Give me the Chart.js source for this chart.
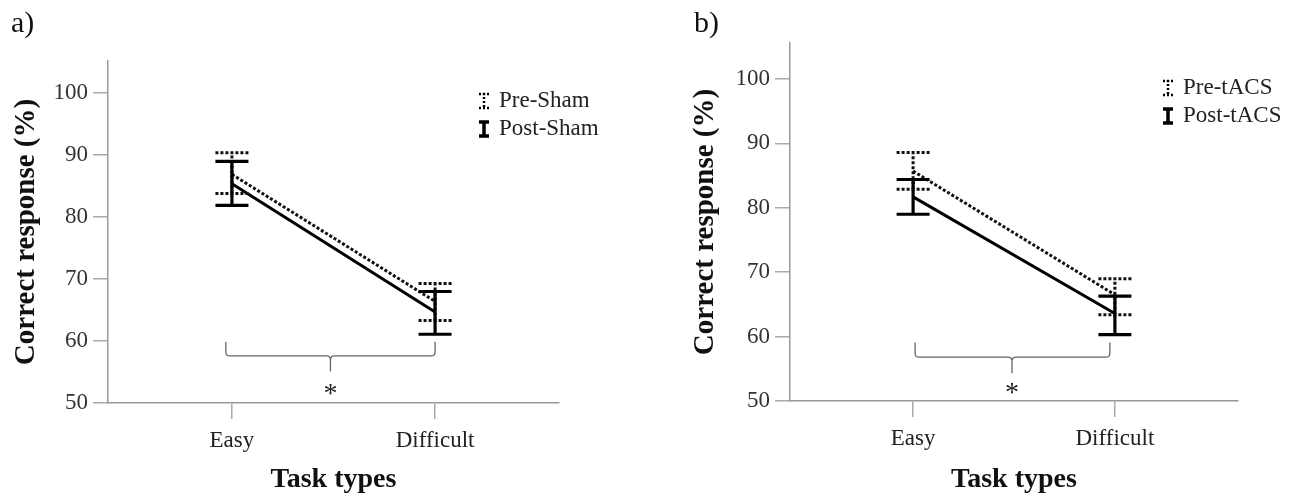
<!DOCTYPE html>
<html><head><meta charset="utf-8">
<script src="https://cdn.jsdelivr.net/npm/chart.js@4"></script>
<style>
html,body{margin:0;padding:0;background:#fff;}
#wrap{position:relative;width:1303px;height:494px;overflow:hidden;background:#fff;}
canvas{position:absolute;top:0;}
</style></head><body>
<div id="wrap">
<canvas id="c1" width="650" height="494" style="left:0"></canvas>
<canvas id="c2" width="653" height="494" style="left:650px"></canvas>
</div>
<script>
// ---------- data ----------
const categories = ['Easy', 'Difficult'];
const yTicks = [50, 60, 70, 80, 90, 100];

// Panel a) Sham
const shamPreMean  = [86.9, 66.4];
const shamPreLow   = [83.8, 63.3];
const shamPreHigh  = [90.4, 69.3];
const shamPostMean = [85.4, 64.7];
const shamPostLow  = [81.9, 61.1];
const shamPostHigh = [89.0, 68.0];
const shamLabels   = ['Pre-Sham', 'Post-Sham'];

// Panel b) tACS
const tacsPreMean  = [85.7, 66.5];
const tacsPreLow   = [82.9, 63.4];
const tacsPreHigh  = [88.6, 69.0];
const tacsPostMean = [81.7, 63.6];
const tacsPostLow  = [79.0, 60.3];
const tacsPostHigh = [84.4, 66.3];
const tacsLabels   = ['Pre-tACS', 'Post-tACS'];

const FONT = '"Liberation Serif", "Times New Roman", serif';
Chart.defaults.font.family = FONT;

// ---------- plugins ----------
const errorBarPlugin = {
  id: 'errorBars',
  afterDatasetsDraw(chart) {
    const ctx = chart.ctx, xs = chart.scales.x, ys = chart.scales.y;
    chart.data.datasets.forEach((ds) => {
      if (!ds.errLow) return;
      ctx.save();
      ctx.strokeStyle = ds.borderColor;
      ctx.lineWidth = ds.errWidth;
      ctx.setLineDash(ds.errDash || []);
      ds.errLow.forEach((lo, i) => {
        const x = xs.getPixelForValue(i);
        const y1 = ys.getPixelForValue(lo), y2 = ys.getPixelForValue(ds.errHigh[i]);
        const w = ds.capHalf;
        ctx.beginPath();
        ctx.moveTo(x, y1); ctx.lineTo(x, y2);
        ctx.moveTo(x - w, y1); ctx.lineTo(x + w, y1);
        ctx.moveTo(x - w, y2); ctx.lineTo(x + w, y2);
        ctx.stroke();
      });
      ctx.restore();
    });
  }
};

const decorPlugin = {
  id: 'decor',
  afterDraw(chart, args, o) {
    const ctx = chart.ctx, xs = chart.scales.x, ys = chart.scales.y;
    ctx.save();
    // panel label
    ctx.fillStyle = '#111';
    ctx.font = '30px ' + FONT;
    ctx.textAlign = 'left';
    ctx.textBaseline = 'alphabetic';
    ctx.fillText(o.panel, o.panelX, o.panelY);

    // curly brace
    const b = o.brace;
    const xL = xs.getPixelForValue(b.x0), xR = xs.getPixelForValue(b.x1), xC = xs.getPixelForValue(b.xc);
    const yT = ys.getPixelForValue(b.yTop), yM = ys.getPixelForValue(b.yMid), yP = ys.getPixelForValue(b.yTip);
    const r = 4;
    ctx.strokeStyle = '#666';
    ctx.lineWidth = 1.3;
    ctx.beginPath();
    ctx.moveTo(xL, yT);
    ctx.lineTo(xL, yM - r);
    ctx.quadraticCurveTo(xL, yM, xL + r, yM);
    ctx.lineTo(xC - r, yM);
    ctx.quadraticCurveTo(xC, yM, xC, yM + r);
    ctx.lineTo(xC, yP);
    ctx.moveTo(xC, yM + r);
    ctx.quadraticCurveTo(xC, yM, xC + r, yM);
    ctx.lineTo(xR - r, yM);
    ctx.quadraticCurveTo(xR, yM, xR, yM - r);
    ctx.lineTo(xR, yT);
    ctx.stroke();

    // asterisk
    ctx.fillStyle = '#222';
    ctx.font = '28px ' + FONT;
    ctx.textAlign = 'center';
    ctx.fillText('*', xC, ys.getPixelForValue(b.yStar) + 13);

    // legend
    const L = o.legend;
    chart.data.datasets.forEach((ds, k) => {
      const yc = L.y[k];
      const x = L.iconX;
      ctx.save();
      ctx.strokeStyle = '#000';
      if (ds.borderDash && ds.borderDash.length) {
        ctx.lineWidth = 2.5;
        ctx.setLineDash([2, 2]);
      } else {
        ctx.lineWidth = 3.5;
        ctx.setLineDash([]);
      }
      ctx.beginPath();
      ctx.moveTo(x, yc - 8); ctx.lineTo(x, yc + 8);
      ctx.moveTo(x - 5, yc - 7); ctx.lineTo(x + 5, yc - 7);
      ctx.moveTo(x - 5, yc + 7); ctx.lineTo(x + 5, yc + 7);
      ctx.stroke();
      ctx.restore();
      ctx.fillStyle = '#222';
      ctx.font = '23px ' + FONT;
      ctx.textAlign = 'left';
      ctx.textBaseline = 'middle';
      ctx.fillText(ds.label, L.textX, yc);
    });
    ctx.restore();
  }
};

// ---------- chart factory ----------
function makePanel(id, labels, preMean, preLow, preHigh, postMean, postLow, postHigh, s) {
  const pts = (arr) => categories.map((c, i) => ({ x: i, y: arr[i] }));
  return new Chart(document.getElementById(id), {
    type: 'line',
    data: {
      datasets: [
        {
          label: labels[0], data: pts(preMean),
          borderColor: '#111', borderWidth: 3, borderDash: [3, 2],
          pointRadius: 0, fill: false, tension: 0,
          errLow: preLow, errHigh: preHigh, errWidth: 3, errDash: [3, 2], capHalf: 16.5
        },
        {
          label: labels[1], data: pts(postMean),
          borderColor: '#000', borderWidth: 3,
          pointRadius: 0, fill: false, tension: 0,
          errLow: postLow, errHigh: postHigh, errWidth: 3.2, errDash: [], capHalf: 16.5
        }
      ]
    },
    options: {
      responsive: false, animation: false, devicePixelRatio: 1,
      layout: { padding: { top: s.top, right: s.right, left: 0, bottom: 0 } },
      plugins: {
        legend: { display: false }, tooltip: { enabled: false },
        decor: s.decor
      },
      scales: {
        x: {
          type: 'linear', min: -0.61, max: 1.61,
          afterBuildTicks: (sc) => { sc.ticks = categories.map((c, i) => ({ value: i })); },
          afterFit: (sc) => { sc.height = s.xH; },
          grid: { drawOnChartArea: false, drawTicks: true, tickLength: 16, color: '#aaa', lineWidth: 1.5 },
          border: { color: '#999', width: 1.5 },
          ticks: { callback: (v) => categories[v], font: { size: 23 }, color: '#222', padding: 8, autoSkip: false, maxRotation: 0 },
          title: { display: true, text: 'Task types', color: '#111', font: { size: 28, weight: 'bold', lineHeight: 1 }, padding: 0 }
        },
        y: {
          min: 50, max: s.yMax,
          afterBuildTicks: (sc) => { sc.ticks = yTicks.map((v) => ({ value: v })); },
          afterFit: (sc) => { sc.width = s.yW; },
          grid: { drawOnChartArea: false, drawTicks: true, tickLength: 15, color: '#aaa', lineWidth: 1.5 },
          border: { color: '#999', width: 1.5 },
          ticks: { font: { size: 23 }, color: '#333', padding: 5 },
          title: { display: true, text: 'Correct response (%)', color: '#111', font: { size: 29, weight: 'bold' }, padding: { top: s.titlePad, bottom: 0 } }
        }
      }
    },
    plugins: [errorBarPlugin, decorPlugin]
  });
}

makePanel('c1', shamLabels, shamPreMean, shamPreLow, shamPreHigh, shamPostMean, shamPostLow, shamPostHigh, {
  top: 61, right: 91, xH: 91, yW: 108, yMax: 105.2, titlePad: 9,
  decor: {
    panel: 'a)', panelX: 11, panelY: 32,
    brace: { x0: -0.03, x1: 1.0, xc: 0.485, yTop: 59.9, yMid: 57.6, yTip: 55.1, yStar: 52.2 },
    legend: { iconX: 484, textX: 499, y: [101, 129] }
  }
});

makePanel('c2', tacsLabels, tacsPreMean, tacsPreLow, tacsPreHigh, tacsPostMean, tacsPostLow, tacsPostHigh, {
  top: 43, right: 65, xH: 93, yW: 140, yMax: 105.6, titlePad: 38,
  decor: {
    panel: 'b)', panelX: 44, panelY: 32,
    brace: { x0: 0.01, x1: 0.975, xc: 0.49, yTop: 59.1, yMid: 56.8, yTip: 54.3, yStar: 52.0 },
    legend: { iconX: 518, textX: 533, y: [88, 116] }
  }
});
</script>
</body></html>
